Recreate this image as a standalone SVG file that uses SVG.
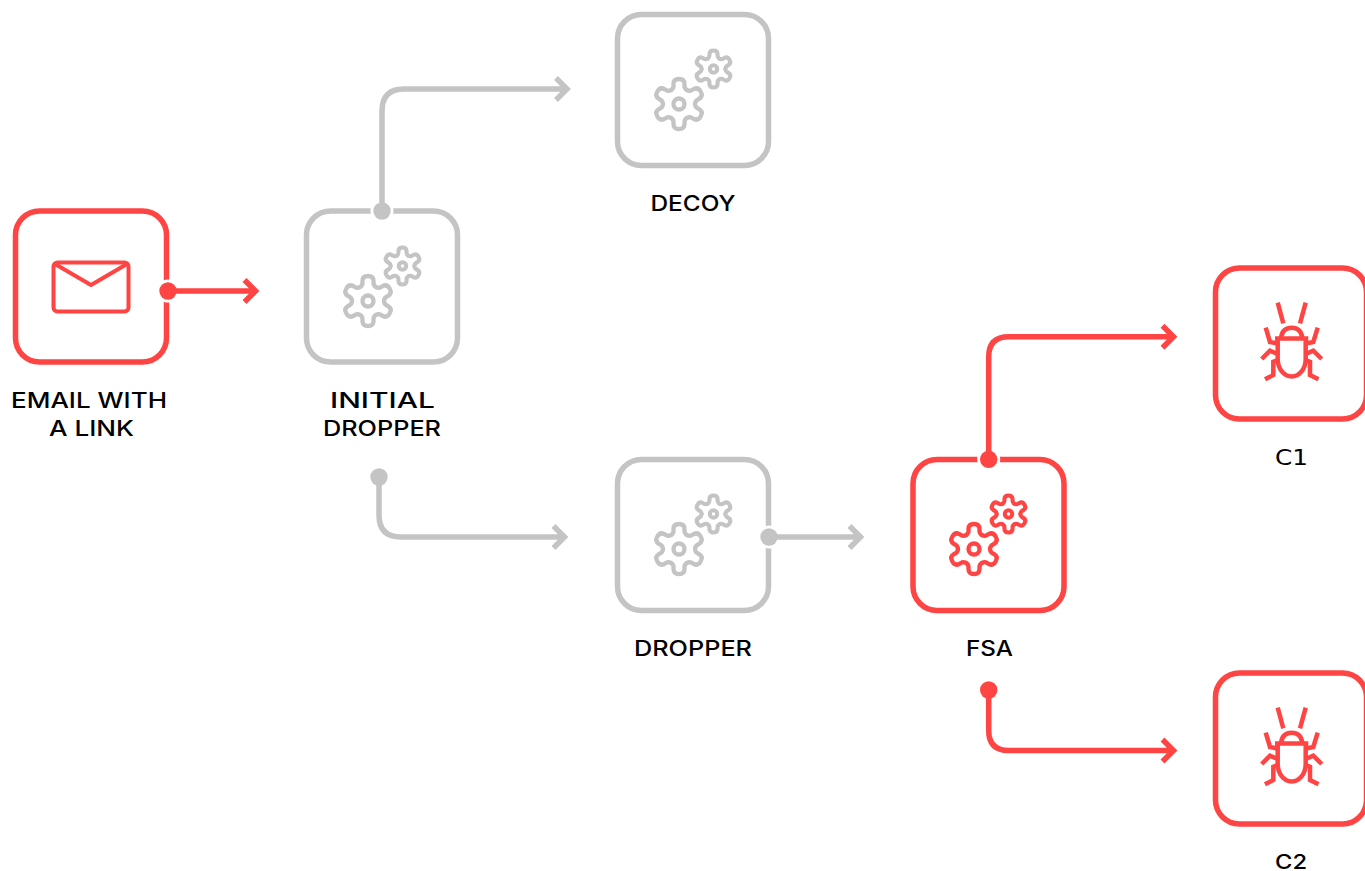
<svg xmlns="http://www.w3.org/2000/svg" xmlns:xlink="http://www.w3.org/1999/xlink" width="1365" height="871" viewBox="0 0 1365 871">
<style>
.box{fill:#fff;stroke-width:5.5}
.r{stroke:#ff4444}.g{stroke:#c4c4c4}
.df{fill:#ff4444}.dg{fill:#c4c4c4}
.ln{fill:none;stroke-width:5.5;stroke-linejoin:miter}
.ic{fill:none;stroke-width:4;stroke-linecap:round;stroke-linejoin:round}
.ring{fill:#fff}
text{font-family:Inter,"Liberation Sans",sans-serif;font-weight:500;font-size:21px;fill:#000;text-anchor:middle}
.m{font-family:"DejaVu Sans","Liberation Sans",sans-serif;font-weight:500}
</style>
<defs>
<path id="tooth" d="M-8 -13.9Q-5.5 -15.5 -5.5 -18V-20Q-5.5 -25 0 -25Q5.500 -25 5.500 -20V-18Q5.500 -15.500 8 -13.900"/>
<g id="gears" fill="none" stroke-linecap="round" stroke-linejoin="round">
<g stroke-width="4.300"><use xlink:href="#tooth"/><use xlink:href="#tooth" transform="rotate(60)"/><use xlink:href="#tooth" transform="rotate(120)"/><use xlink:href="#tooth" transform="rotate(180)"/><use xlink:href="#tooth" transform="rotate(240)"/><use xlink:href="#tooth" transform="rotate(300)"/><circle r="5.500"/></g>
<g transform="translate(34.500 -35) scale(.74)" stroke-width="5.500"><use xlink:href="#tooth"/><use xlink:href="#tooth" transform="rotate(60)"/><use xlink:href="#tooth" transform="rotate(120)"/><use xlink:href="#tooth" transform="rotate(180)"/><use xlink:href="#tooth" transform="rotate(240)"/><use xlink:href="#tooth" transform="rotate(300)"/><circle r="5"/></g>
</g>
<g id="bug" fill="none" stroke-width="4.500">
<path d="M1277.700 302.700L1283.300 323.300M1305.700 302.700L1300 323.300"/>
<path d="M1281 337.500C1282 331 1286 327.700 1291.700 327.700S1301.300 331 1302.300 337.500"/>
<path d="M1275 338.500H1308.300M1277.700 338.500V359A14 17.500 0 0 0 1305.700 359V338.500"/>
<path d="M1265.700 327.700L1270 342L1277.700 343.500M1317.700 327.700L1313.300 342L1305.700 343.500"/>
<path d="M1261.700 359L1270 350.700L1277.700 354M1321.700 359L1313.300 350.700L1305.700 354"/>
<path d="M1265 379.300L1273.300 375V361.700L1277.700 360M1318.500 379.300L1310 375V361.700L1305.700 360"/>
</g>
</defs>

<g id="node-email">
<rect class="box r" x="15.500" y="211" width="151" height="151" rx="24"/>
<g class="ic r"><rect x="53.500" y="262.500" width="75" height="49" rx="4"/><path d="M55 264L91 285L127 264"/></g>
<text x="89" y="408.200" textLength="156" lengthAdjust="spacingAndGlyphs">EMAIL WITH</text>
<text x="91.500" y="436.200" textLength="85" lengthAdjust="spacingAndGlyphs">A LINK</text>
</g>
<g id="node-initial-dropper">
<rect class="box g" x="306.500" y="211" width="151" height="151" rx="24"/>
<use xlink:href="#gears" class="g" x="368" y="301"/>
<text x="382.500" y="408.200" textLength="105" lengthAdjust="spacingAndGlyphs">INITIAL</text>
<text x="382" y="436.200" textLength="118" lengthAdjust="spacingAndGlyphs">DROPPER</text>
</g>
<g id="node-decoy">
<rect class="box g" x="617.500" y="14.500" width="151" height="151" rx="24"/>
<use xlink:href="#gears" class="g" x="679" y="104"/>
<text x="693" y="211.200" textLength="85" lengthAdjust="spacingAndGlyphs">DECOY</text>
</g>
<g id="node-dropper">
<rect class="box g" x="617.500" y="459.500" width="151" height="151" rx="24"/>
<use xlink:href="#gears" class="g" x="679" y="549"/>
<text x="693" y="656.300" textLength="118" lengthAdjust="spacingAndGlyphs">DROPPER</text>
</g>
<g id="node-fsa">
<rect class="box r" x="913" y="459.500" width="151" height="151" rx="24"/>
<use xlink:href="#gears" class="r" x="974" y="549"/>
<text x="989.500" y="656.300" textLength="47" lengthAdjust="spacingAndGlyphs">FSA</text>
</g>
<g id="node-c1">
<rect class="box r" x="1215.500" y="268" width="151" height="151" rx="24"/>
<use xlink:href="#bug" class="r"/>
<text class="m" x="1291.500" y="464.500" textLength="33" lengthAdjust="spacingAndGlyphs">C1</text>
</g>
<g id="node-c2">
<rect class="box r" x="1215.500" y="673" width="151" height="151" rx="24"/>
<use xlink:href="#bug" class="r" y="405"/>
<text x="1291" y="869.300" font-size="20" style="font-size:20px" textLength="32" lengthAdjust="spacingAndGlyphs">C2</text>
</g>

<g id="connectors">
<circle class="ring" cx="382" cy="211" r="11.500"/>
<circle class="ring" cx="769" cy="537" r="11.500"/>
<circle class="ring" cx="168" cy="291" r="11.500"/>
<circle class="ring" cx="988.700" cy="459.300" r="11.500"/>
<g class="ln g">
<path d="M382 211V111Q382 89 404 89H566M556 78L567 89L556 100"/>
<path d="M379 477V515Q379 537 401 537H563M553.500 526L564.500 537L553.500 548"/>
<path d="M769 537H859M849.500 526L860.500 537L849.500 548"/>
</g>
<g class="ln r">
<path d="M168 291H255M244.500 280L255.500 291L244.500 302"/>
<path d="M988.700 459V356.700Q988.700 336.700 1008.700 336.700H1173M1162.500 325.700L1173.500 336.700L1162.500 347.700"/>
<path d="M988.700 690V730.500Q988.700 750.500 1008.700 750.500H1173M1162.500 739.500L1173.500 750.500L1162.500 761.500"/>
</g>
<circle class="dg" cx="382" cy="211" r="8.700"/>
<circle class="dg" cx="379" cy="477" r="8.700"/>
<circle class="dg" cx="769" cy="537" r="8.700"/>
<circle class="df" cx="168" cy="291" r="8.700"/>
<circle class="df" cx="988.700" cy="459.300" r="8.700"/>
<circle class="df" cx="988.700" cy="690" r="8.700"/>
</g>
</svg>
